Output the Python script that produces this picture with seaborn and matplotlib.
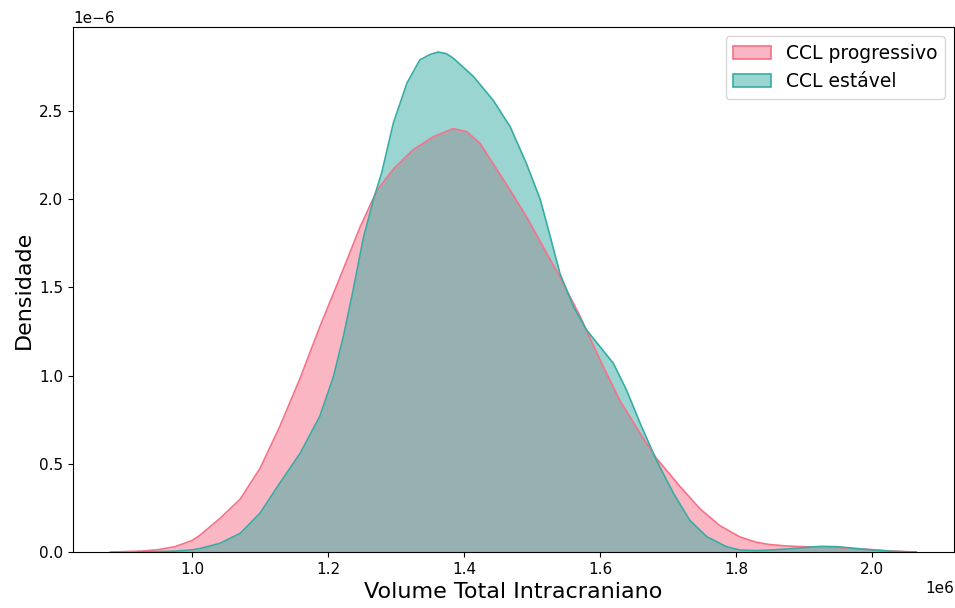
import numpy as np
import pandas as pd
import matplotlib
matplotlib.use("Agg")
import matplotlib.pyplot as plt
from matplotlib.patches import Patch
import seaborn as sns

# Estimated density curves of total intracranial volume (x in 1e6, density in 1e-6)
x_prog = [0.88, 0.90, 0.925, 0.95, 0.975, 1.00, 1.012, 1.041, 1.071, 1.10, 1.129, 1.159,
          1.188, 1.218, 1.247, 1.272, 1.296, 1.325, 1.355, 1.384, 1.404, 1.4235, 1.443,
          1.468, 1.492, 1.512, 1.541, 1.571, 1.60, 1.629, 1.659, 1.683, 1.718, 1.747,
          1.776, 1.806, 1.83, 1.85, 1.875, 1.90, 1.925, 1.95, 1.975, 2.00, 2.025, 2.05,
          2.065]
d_prog = [0.0, 0.002, 0.005, 0.013, 0.03, 0.065, 0.096, 0.19, 0.30, 0.474, 0.71, 0.985,
          1.277, 1.56, 1.84, 2.05, 2.17, 2.28, 2.354, 2.40, 2.383, 2.317, 2.20,
          2.05, 1.90, 1.76, 1.56, 1.334, 1.09, 0.86, 0.673, 0.531, 0.37, 0.245,
          0.15, 0.085, 0.055, 0.042, 0.034, 0.03, 0.029, 0.026, 0.02, 0.013, 0.006, 0.002,
          0.0]

x_est = [0.92, 0.95, 0.975, 1.00, 1.012, 1.041, 1.071, 1.10, 1.129, 1.159, 1.188, 1.208,
         1.2225, 1.237, 1.252, 1.267, 1.279, 1.296, 1.316, 1.335, 1.35, 1.362, 1.374,
         1.384, 1.414, 1.443, 1.468, 1.492, 1.512, 1.526, 1.541, 1.561, 1.580, 1.60,
         1.6196, 1.639, 1.659, 1.683, 1.708, 1.732, 1.757, 1.786, 1.806, 1.83, 1.85,
         1.875, 1.90, 1.925, 1.95, 1.975, 2.00, 2.025, 2.05, 2.065]
d_est = [0.0, 0.002, 0.005, 0.012, 0.02, 0.049, 0.106, 0.22, 0.39, 0.56, 0.77, 0.994,
         1.22, 1.485, 1.78, 2.00, 2.15, 2.43, 2.657, 2.789, 2.82, 2.834, 2.825,
         2.80, 2.695, 2.56, 2.41, 2.20, 2.00, 1.80, 1.58, 1.39, 1.26, 1.164,
         1.07, 0.918, 0.73, 0.52, 0.333, 0.18, 0.087, 0.03, 0.011, 0.008, 0.011,
         0.017, 0.025, 0.032, 0.03, 0.02, 0.012, 0.005, 0.001, 0.0]

labels = ["CCL progressivo", "CCL estável"]
colors = sns.color_palette("husl", 2)

fig, ax = plt.subplots(figsize=(9.55, 6.08), dpi=100)
fig.subplots_adjust(left=73/955, right=954/955, top=1-27/608, bottom=1-552/608)

for xs, ds, lab, col in zip([x_prog, x_est], [d_prog, d_est], labels, colors):
    df = pd.DataFrame({"x": np.array(xs) * 1e6, "d": np.array(ds) * 1e-6})
    ax.fill_between(df["x"], df["d"], color=col, alpha=0.5, linewidth=0)
    sns.lineplot(data=df, x="x", y="d", color=col, linewidth=1.2, ax=ax)

ax.set_xlim(0.825e6, 2.1206e6)
ax.set_ylim(0, 2.976e-6)
ax.set_xlabel("Volume Total Intracraniano", fontsize=16)
ax.set_ylabel("Densidade", fontsize=16)
ax.tick_params(labelsize=11)
ax.xaxis.get_offset_text().set_fontsize(11)
ax.yaxis.get_offset_text().set_fontsize(11)

handles = [Patch(facecolor=(*c, 0.5), edgecolor=c, linewidth=1.2) for c in colors]
ax.legend(handles, labels, loc="upper right", fontsize=13.5)

fig.savefig("out.png", dpi=100)
